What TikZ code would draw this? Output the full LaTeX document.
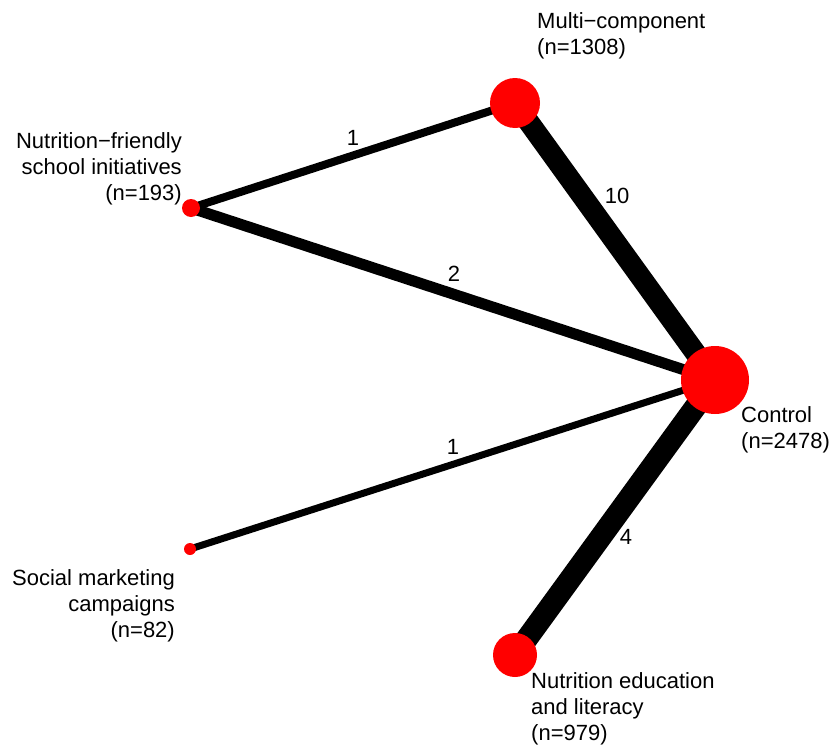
\documentclass[tikz,border=0pt]{standalone}
\usepackage{fontspec}
\setmainfont{Liberation Sans}
\usetikzlibrary{backgrounds}
\tikzstyle{treat} = [circle, fill=red, inner sep=0pt]
\tikzstyle{edge} = [black]
\tikzstyle{lbl} = [inner sep=0pt, font=\fontsize{22}{26}\selectfont]

\begin{document}
\begin{tikzpicture}[x=1pt, y=-1pt]
		\useasboundingbox (0,0) rectangle (830,747);
		% draw the treatment circles first
		\node [treat, minimum size=50pt] (multi) at (515,103) {};
		\node [treat, minimum size=18pt] (friendly) at (191,208) {};
		\node [treat, minimum size=68pt] (control) at (715,380) {};
		\node [treat, minimum size=12pt] (social) at (190,549) {};
		\node [treat, minimum size=44pt] (education) at (515,655) {};

		% draw the comparisons behind the circles
		\begin{scope}[on background layer]
		\draw [edge, line width=8pt] (friendly.center) -- (multi.center);
		\draw [edge, line width=11pt] (friendly.center) -- (control.center);
		\draw [edge, line width=21pt] (multi.center) -- (control.center);
		\draw [edge, line width=7pt] (social.center) -- (control.center);
		\draw [edge, line width=22pt] (education.center) -- (control.center);
		\end{scope}

		% number of studies per comparison
		\node [lbl] (n1) at (353,138) {1};
		\node [lbl] (n2) at (454,274) {2};
		\node [lbl] (n3) at (617,196) {10};
		\node [lbl] (n4) at (453,447) {1};
		\node [lbl] (n5) at (626,537) {4};

		% treatment names (base anchor sits on the last line)
		\node [lbl, anchor=base west, align=left] (multitext) at (537,54) {Multi−component\\(n=1308)};
		\node [lbl, anchor=base east, align=right] (friendlytext) at (182,200) {Nutrition−friendly\\school initiatives\\(n=193)};
		\node [lbl, anchor=base west, align=left] (controltext) at (741,448) {Control\\(n=2478)};
		\node [lbl, anchor=base east, align=right] (socialtext) at (175,637) {Social marketing\\campaigns\\(n=82)};
		\node [lbl, anchor=base west, align=left] (educationtext) at (531,740) {Nutrition education\\and literacy\\(n=979)};
	\end{tikzpicture}
\end{document}
